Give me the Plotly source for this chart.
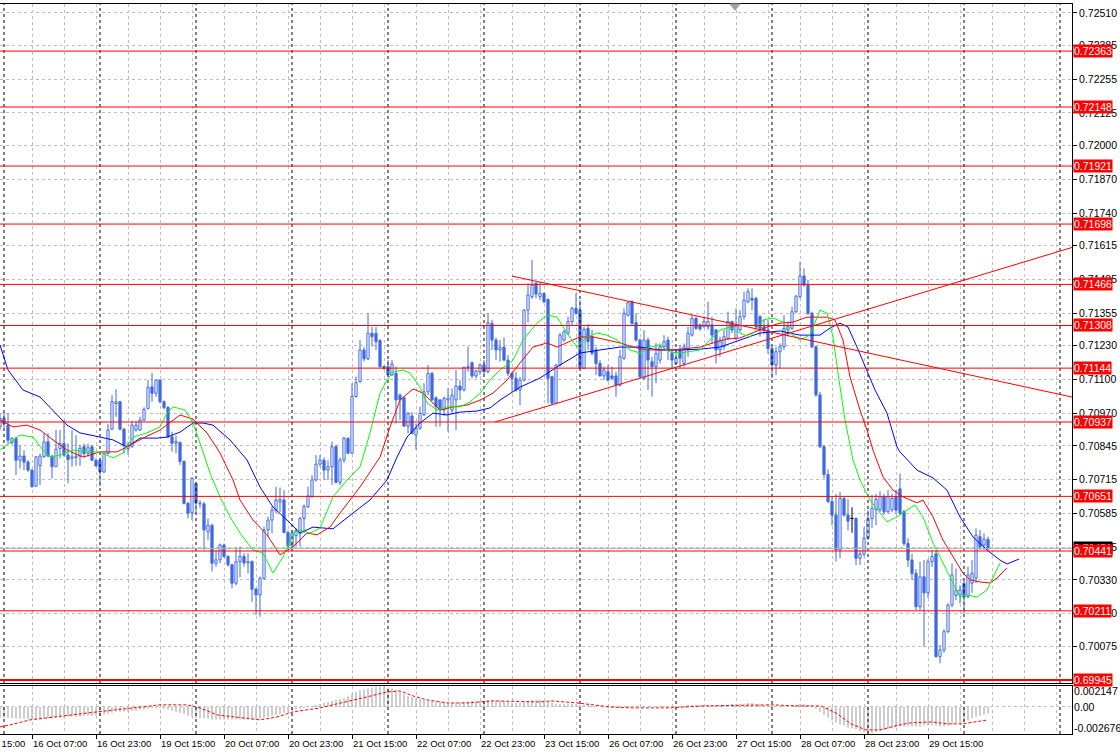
import plotly.graph_objects as go

# ---------------- data ----------------
bar_index = list(range(-1, 247))  # hourly bars, 0 = 16 Oct 00:00

open_px = [
0.70919, 0.70951, 0.70925, 0.70858, 0.70874, 0.70790, 0.70806, 0.70783, 0.70752, 0.70690,
0.70770, 0.70803, 0.70861, 0.70806, 0.70765, 0.70835, 0.70854, 0.70810, 0.70797, 0.70800,
0.70806, 0.70842, 0.70816, 0.70842, 0.70790, 0.70790, 0.70745, 0.70816, 0.70909, 0.71008,
0.71015, 0.70909, 0.70835, 0.70842, 0.70906, 0.70906, 0.70944, 0.70989, 0.71072, 0.71047,
0.71098, 0.71015, 0.70993, 0.70880, 0.70855, 0.70858, 0.70785, 0.70624, 0.70588, 0.70700,
0.70622, 0.70622, 0.70515, 0.70540, 0.70394, 0.70407, 0.70464, 0.70420, 0.70388, 0.70317,
0.70400, 0.70420, 0.70395, 0.70400, 0.70294, 0.70272, 0.70336, 0.70522, 0.70560, 0.70598,
0.70630, 0.70637, 0.70512, 0.70460, 0.70500, 0.70509, 0.70566, 0.70612, 0.70650, 0.70714,
0.70775, 0.70790, 0.70752, 0.70765, 0.70842, 0.70705, 0.70791, 0.70874, 0.70817, 0.71035,
0.71092, 0.71214, 0.71180, 0.71278, 0.71278, 0.71250, 0.71150, 0.71150, 0.71118, 0.71124,
0.71040, 0.71030, 0.70921, 0.70960, 0.70887, 0.70913, 0.70965, 0.71053, 0.71124, 0.71030,
0.71022, 0.70983, 0.71022, 0.70983, 0.71022, 0.71075, 0.71060, 0.71147, 0.71165, 0.71114,
0.71130, 0.71156, 0.71130, 0.71316, 0.71252, 0.71214, 0.71224, 0.71175, 0.71124, 0.71105,
0.71060, 0.71098, 0.71367, 0.71419, 0.71470, 0.71419, 0.71431, 0.71408, 0.71111, 0.71009,
0.71156, 0.71252, 0.71278, 0.71323, 0.71374, 0.71367, 0.71143, 0.71297, 0.71265, 0.71214,
0.71162, 0.71114, 0.71130, 0.71114, 0.71114, 0.71079, 0.71182, 0.71348, 0.71399, 0.71319,
0.71252, 0.71105, 0.71252, 0.71169, 0.71150, 0.71175, 0.71226, 0.71252, 0.71201, 0.71162,
0.71214, 0.71162, 0.71214, 0.71271, 0.71335, 0.71310, 0.71303, 0.71303, 0.71310, 0.71291,
0.71214, 0.71226, 0.71258, 0.71323, 0.71258, 0.71291, 0.71342, 0.71399, 0.71412, 0.71412,
0.71342, 0.71303, 0.71291, 0.71220, 0.71156, 0.71207, 0.71226, 0.71291, 0.71297, 0.71361,
0.71419, 0.71498, 0.71463, 0.71355, 0.71226, 0.71041, 0.70842, 0.70735, 0.70631, 0.70579,
0.70445, 0.70643, 0.70579, 0.70566, 0.70566, 0.70413, 0.70429, 0.70490, 0.70566, 0.70600,
0.70600, 0.70650, 0.70592, 0.70600, 0.70650, 0.70680, 0.70592, 0.70470, 0.70406, 0.70355,
0.70227, 0.70342, 0.70280, 0.70400, 0.70430, 0.70035, 0.70060, 0.70131, 0.70233, 0.70270,
0.70272, 0.70317, 0.70265, 0.70317, 0.70336, 0.70496, 0.70464, 0.70486,
]

high_px = [
0.70970, 0.70975, 0.70970, 0.70880, 0.70880, 0.70848, 0.70829, 0.70790, 0.70755, 0.70806,
0.70816, 0.70893, 0.70893, 0.70810, 0.70906, 0.70906, 0.70944, 0.70854, 0.70906, 0.70886,
0.70848, 0.70854, 0.70854, 0.70848, 0.70797, 0.70793, 0.70822, 0.70929, 0.71040, 0.71063,
0.71018, 0.70915, 0.70860, 0.70940, 0.70940, 0.70957, 0.70993, 0.71098, 0.71126, 0.71100,
0.71100, 0.71020, 0.70998, 0.70900, 0.70885, 0.70862, 0.70790, 0.70630, 0.70725, 0.70705,
0.70637, 0.70630, 0.70566, 0.70545, 0.70445, 0.70470, 0.70470, 0.70425, 0.70392, 0.70455,
0.70458, 0.70432, 0.70432, 0.70405, 0.70300, 0.70343, 0.70535, 0.70573, 0.70612, 0.70688,
0.70685, 0.70675, 0.70520, 0.70520, 0.70530, 0.70573, 0.70620, 0.70688, 0.70733, 0.70810,
0.70810, 0.70800, 0.70790, 0.70862, 0.70850, 0.70800, 0.70880, 0.70878, 0.71086, 0.71112,
0.71252, 0.71225, 0.71355, 0.71303, 0.71303, 0.71255, 0.71155, 0.71175, 0.71175, 0.71150,
0.71047, 0.71035, 0.70975, 0.70975, 0.70932, 0.70996, 0.71086, 0.71156, 0.71130, 0.71035,
0.71025, 0.71035, 0.71066, 0.71066, 0.71137, 0.71098, 0.71150, 0.71227, 0.71170, 0.71137,
0.71162, 0.71175, 0.71355, 0.71330, 0.71262, 0.71252, 0.71262, 0.71194, 0.71130, 0.71130,
0.71111, 0.71370, 0.71470, 0.71560, 0.71476, 0.71476, 0.71435, 0.71412, 0.71115, 0.71160,
0.71280, 0.71290, 0.71342, 0.71380, 0.71431, 0.71406, 0.71303, 0.71314, 0.71291, 0.71226,
0.71175, 0.71150, 0.71156, 0.71150, 0.71130, 0.71214, 0.71374, 0.71399, 0.71406, 0.71355,
0.71258, 0.71290, 0.71262, 0.71188, 0.71240, 0.71239, 0.71271, 0.71265, 0.71214, 0.71214,
0.71233, 0.71239, 0.71303, 0.71348, 0.71342, 0.71316, 0.71342, 0.71399, 0.71342, 0.71295,
0.71265, 0.71291, 0.71361, 0.71326, 0.71374, 0.71367, 0.71438, 0.71451, 0.71451, 0.71419,
0.71348, 0.71330, 0.71329, 0.71226, 0.71226, 0.71239, 0.71348, 0.71323, 0.71380, 0.71425,
0.71553, 0.71527, 0.71483, 0.71361, 0.71230, 0.71053, 0.70848, 0.70755, 0.70650, 0.70660,
0.70669, 0.70650, 0.70640, 0.70609, 0.70570, 0.70445, 0.70532, 0.70598, 0.70656, 0.70660,
0.70670, 0.70660, 0.70675, 0.70660, 0.70676, 0.70739, 0.70600, 0.70490, 0.70430, 0.70371,
0.70400, 0.70406, 0.70410, 0.70445, 0.70445, 0.70080, 0.70140, 0.70240, 0.70393, 0.70374,
0.70310, 0.70330, 0.70381, 0.70406, 0.70528, 0.70522, 0.70509, 0.70496,
]

low_px = [
0.70906, 0.70915, 0.70854, 0.70850, 0.70733, 0.70758, 0.70752, 0.70745, 0.70685, 0.70688,
0.70695, 0.70800, 0.70803, 0.70720, 0.70765, 0.70797, 0.70803, 0.70701, 0.70765, 0.70768,
0.70768, 0.70800, 0.70803, 0.70787, 0.70765, 0.70690, 0.70741, 0.70812, 0.70906, 0.70957,
0.70906, 0.70816, 0.70812, 0.70838, 0.70900, 0.70903, 0.70940, 0.70985, 0.71015, 0.71034,
0.71008, 0.70985, 0.70875, 0.70823, 0.70817, 0.70772, 0.70620, 0.70566, 0.70560, 0.70580,
0.70605, 0.70445, 0.70483, 0.70362, 0.70381, 0.70394, 0.70413, 0.70381, 0.70298, 0.70310,
0.70340, 0.70381, 0.70355, 0.70246, 0.70195, 0.70188, 0.70330, 0.70496, 0.70509, 0.70586,
0.70590, 0.70509, 0.70445, 0.70440, 0.70458, 0.70458, 0.70510, 0.70605, 0.70645, 0.70708,
0.70765, 0.70714, 0.70714, 0.70695, 0.70700, 0.70694, 0.70780, 0.70815, 0.70815, 0.71030,
0.71088, 0.71170, 0.71175, 0.71227, 0.71214, 0.71145, 0.71137, 0.71112, 0.71114, 0.70932,
0.70945, 0.70919, 0.70893, 0.70890, 0.70830, 0.70906, 0.70960, 0.71040, 0.71018, 0.70919,
0.70919, 0.70960, 0.70900, 0.70970, 0.70906, 0.71022, 0.71054, 0.71130, 0.71105, 0.71105,
0.71118, 0.71120, 0.71124, 0.71214, 0.71175, 0.71169, 0.71170, 0.71114, 0.71053, 0.71053,
0.71002, 0.71092, 0.71320, 0.71410, 0.71412, 0.71406, 0.71393, 0.71009, 0.71002, 0.71005,
0.71150, 0.71246, 0.71271, 0.71310, 0.71348, 0.71140, 0.71140, 0.71214, 0.71194, 0.71118,
0.71111, 0.71098, 0.71092, 0.71098, 0.71034, 0.71073, 0.71175, 0.71342, 0.71310, 0.71246,
0.71105, 0.71098, 0.71060, 0.71034, 0.71086, 0.71162, 0.71214, 0.71175, 0.71143, 0.71156,
0.71143, 0.71150, 0.71188, 0.71265, 0.71291, 0.71288, 0.71300, 0.71291, 0.71239, 0.71162,
0.71188, 0.71214, 0.71252, 0.71278, 0.71252, 0.71284, 0.71330, 0.71393, 0.71367, 0.71297,
0.71265, 0.71275, 0.71200, 0.71105, 0.71118, 0.71143, 0.71214, 0.71265, 0.71291, 0.71355,
0.71412, 0.71457, 0.71348, 0.71220, 0.71034, 0.70836, 0.70720, 0.70625, 0.70540, 0.70400,
0.70413, 0.70573, 0.70520, 0.70511, 0.70387, 0.70387, 0.70420, 0.70483, 0.70530, 0.70540,
0.70590, 0.70580, 0.70585, 0.70590, 0.70585, 0.70580, 0.70460, 0.70380, 0.70330, 0.70214,
0.70214, 0.70073, 0.70260, 0.70380, 0.70030, 0.70009, 0.70050, 0.70125, 0.70225, 0.70252,
0.70240, 0.70201, 0.70260, 0.70280, 0.70317, 0.70445, 0.70445, 0.70445,
]

close_px = [
0.70951, 0.70931, 0.70867, 0.70874, 0.70790, 0.70806, 0.70783, 0.70752, 0.70688, 0.70803,
0.70806, 0.70861, 0.70806, 0.70765, 0.70832, 0.70854, 0.70810, 0.70793, 0.70803, 0.70806,
0.70836, 0.70816, 0.70838, 0.70790, 0.70768, 0.70745, 0.70816, 0.70906, 0.71015, 0.71015,
0.70909, 0.70848, 0.70848, 0.70925, 0.70925, 0.70944, 0.70985, 0.71070, 0.71047, 0.71098,
0.71015, 0.70993, 0.70880, 0.70855, 0.70862, 0.70785, 0.70624, 0.70586, 0.70720, 0.70625,
0.70625, 0.70522, 0.70540, 0.70394, 0.70407, 0.70464, 0.70420, 0.70388, 0.70317, 0.70400,
0.70420, 0.70395, 0.70400, 0.70294, 0.70272, 0.70336, 0.70522, 0.70560, 0.70598, 0.70637,
0.70640, 0.70512, 0.70460, 0.70509, 0.70520, 0.70566, 0.70612, 0.70653, 0.70714, 0.70775,
0.70790, 0.70752, 0.70765, 0.70842, 0.70705, 0.70791, 0.70874, 0.70817, 0.71035, 0.71088,
0.71214, 0.71180, 0.71278, 0.71265, 0.71246, 0.71150, 0.71143, 0.71118, 0.71160, 0.71022,
0.71022, 0.70921, 0.70970, 0.70893, 0.70913, 0.70970, 0.71053, 0.71124, 0.71022, 0.70996,
0.70983, 0.71028, 0.71028, 0.71040, 0.71075, 0.71060, 0.71147, 0.71150, 0.71114, 0.71134,
0.71156, 0.71130, 0.71319, 0.71252, 0.71214, 0.71224, 0.71175, 0.71124, 0.71105, 0.71060,
0.71098, 0.71367, 0.71425, 0.71463, 0.71429, 0.71431, 0.71399, 0.71105, 0.71009, 0.71156,
0.71271, 0.71284, 0.71323, 0.71374, 0.71355, 0.71143, 0.71293, 0.71246, 0.71201, 0.71162,
0.71114, 0.71137, 0.71098, 0.71105, 0.71079, 0.71188, 0.71355, 0.71396, 0.71316, 0.71252,
0.71111, 0.71252, 0.71175, 0.71150, 0.71200, 0.71226, 0.71246, 0.71214, 0.71175, 0.71182,
0.71182, 0.71226, 0.71278, 0.71335, 0.71297, 0.71295, 0.71323, 0.71323, 0.71271, 0.71214,
0.71252, 0.71265, 0.71323, 0.71291, 0.71306, 0.71342, 0.71406, 0.71438, 0.71406, 0.71303,
0.71297, 0.71290, 0.71220, 0.71156, 0.71207, 0.71226, 0.71297, 0.71303, 0.71361, 0.71421,
0.71498, 0.71463, 0.71355, 0.71226, 0.71041, 0.70842, 0.70735, 0.70631, 0.70579, 0.70445,
0.70643, 0.70579, 0.70556, 0.70566, 0.70413, 0.70429, 0.70490, 0.70566, 0.70605, 0.70640,
0.70650, 0.70592, 0.70650, 0.70643, 0.70598, 0.70586, 0.70470, 0.70406, 0.70355, 0.70227,
0.70342, 0.70280, 0.70400, 0.70420, 0.70035, 0.70060, 0.70131, 0.70233, 0.70349, 0.70291,
0.70291, 0.70265, 0.70349, 0.70355, 0.70502, 0.70457, 0.70486, 0.70451,
]

# Alligator lines (already shifted forward)
jaw_bar = [-1, 1, 4.75, 9, 15.75, 19, 24, 27.25, 30.75, 34, 38.25, 40.75, 44, 47.25, 49.75, 52.25,
           56.5, 60.75, 64, 67.25, 70.75, 74, 77.25, 80.75, 82.25, 87.25, 91.5, 95.75, 98.25, 100.75,
           104, 107.25, 110.75, 114, 118.25, 121.5, 124, 129, 134, 139, 144, 149, 154, 159, 164, 169,
           174, 179, 184, 189, 194, 199, 204, 206.5, 209, 211, 213.25, 215.75, 217.75, 220.75, 223.25,
           224, 228.25, 232.25, 235.75, 239, 242.25, 245.75, 249, 250.75, 253.75]
jaw_val = [0.71233, 0.71137, 0.71060, 0.71033, 0.70925, 0.70895, 0.70879, 0.70868, 0.70841, 0.70875,
           0.70875, 0.70879, 0.70898, 0.70933, 0.70933, 0.70925, 0.70868, 0.70791, 0.70687, 0.70610,
           0.70560, 0.70510, 0.70533, 0.70529, 0.70526, 0.70587, 0.70637, 0.70714, 0.70802, 0.70879,
           0.70933, 0.70971, 0.70964, 0.70975, 0.70979, 0.70991, 0.71021, 0.71071, 0.71106, 0.71156,
           0.71202, 0.71214, 0.71225, 0.71225, 0.71214, 0.71214, 0.71217, 0.71225, 0.71252, 0.71279,
           0.71287, 0.71271, 0.71271, 0.71298, 0.71317, 0.71302, 0.71225, 0.71137, 0.71060, 0.70971,
           0.70841, 0.70822, 0.70752, 0.70722, 0.70675, 0.70572, 0.70495, 0.70445, 0.70406, 0.70391,
           0.70410]

teeth_bar = [-1, 2.25, 5.75, 9, 12.25, 15.75, 19.75, 24, 28.25, 30.75, 34.75, 39, 44, 47.25, 50.75,
             54, 57.25, 59, 62.25, 65.75, 69, 72.25, 75.75, 78.25, 81.5, 84, 89, 94, 96.5, 99, 102.25,
             104.75, 106.5, 109, 112.25, 115.75, 119, 122.25, 125.75, 129, 132.25, 135.75, 138.25,
             140.75, 144, 147.25, 150.75, 154, 157.25, 160.75, 167.25, 174, 177.25, 180.75, 184,
             187.25, 190.75, 194, 197.25, 200.75, 205.75, 207.75, 209.75, 211.5, 214, 215.75, 217.25,
             219.75, 222.25, 224.75, 228.25, 229.75, 232.25, 234.75, 237.25, 239.75, 241.5, 244,
             246.5, 248.25, 250.75]
teeth_val = [0.70945, 0.70918, 0.70925, 0.70906, 0.70868, 0.70829, 0.70802, 0.70822, 0.70822, 0.70841,
             0.70875, 0.70906, 0.70964, 0.70948, 0.70895, 0.70818, 0.70714, 0.70637, 0.70560, 0.70503,
             0.70426, 0.70457, 0.70510, 0.70503, 0.70533, 0.70587, 0.70687, 0.70802, 0.70918, 0.71021,
             0.71064, 0.71048, 0.71021, 0.70983, 0.70995, 0.71002, 0.71021, 0.71048, 0.71098, 0.71164,
             0.71225, 0.71241, 0.71225, 0.71241, 0.71264, 0.71264, 0.71252, 0.71241, 0.71225, 0.71214,
             0.71214, 0.71225, 0.71241, 0.71256, 0.71260, 0.71279, 0.71302, 0.71317, 0.71321, 0.71340,
             0.71340, 0.71329, 0.71252, 0.71110, 0.70983, 0.70906, 0.70829, 0.70726, 0.70675, 0.70649,
             0.70626, 0.70637, 0.70572, 0.70483, 0.70418, 0.70356, 0.70330, 0.70322, 0.70318, 0.70337,
             0.70376]

lips_bar = [-1, 2.25, 4, 7.25, 9.75, 11.5, 14, 17.25, 20.75, 24, 27.25, 29.75, 32.25, 35.75, 39,
            40.75, 42.25, 45.25, 47.25, 49, 51.5, 54, 56.5, 59, 62.25, 64.75, 67.25, 69.75, 72.25, 74,
            76.5, 79, 82.25, 85.75, 89, 91.5, 94, 95.75, 97.25, 99.75, 101.5, 104, 105.75, 108.25,
            110.75, 114, 116.5, 119, 121.5, 124, 127.25, 129.75, 133.25, 135.75, 138.25, 140.75,
            143.25, 145.75, 148.25, 150.75, 153.25, 156.5, 159, 161.5, 164, 166.5, 169, 174, 176.5,
            179, 181.5, 184, 186.5, 189.75, 192.25, 194.75, 196.5, 199, 201.5, 204, 205.75, 207.25,
            208.75, 210.25, 212.25, 214, 216.5, 219, 220.75, 223.25, 225.75, 227.75, 229.75, 232.25,
            234.75, 237.25, 239, 240.75, 243.25, 245.75, 249]
lips_val = [0.70829, 0.70868, 0.70887, 0.70879, 0.70829, 0.70802, 0.70810, 0.70829, 0.70822, 0.70822,
            0.70799, 0.70818, 0.70879, 0.70895, 0.70918, 0.70971, 0.70995, 0.70983, 0.70933, 0.70856,
            0.70741, 0.70649, 0.70572, 0.70510, 0.70445, 0.70433, 0.70356, 0.70418, 0.70510, 0.70522,
            0.70510, 0.70529, 0.70649, 0.70714, 0.70764, 0.70895, 0.71048, 0.71098, 0.71129, 0.71137,
            0.71125, 0.71071, 0.71010, 0.70983, 0.70995, 0.70995, 0.71014, 0.71048, 0.71098, 0.71137,
            0.71175, 0.71252, 0.71317, 0.71348, 0.71340, 0.71279, 0.71225, 0.71264, 0.71279, 0.71271,
            0.71252, 0.71214, 0.71202, 0.71225, 0.71233, 0.71206, 0.71202, 0.71214, 0.71252, 0.71290,
            0.71302, 0.71279, 0.71264, 0.71329, 0.71337, 0.71321, 0.71279, 0.71252, 0.71271, 0.71367,
            0.71356, 0.71264, 0.71098, 0.70945, 0.70791, 0.70714, 0.70637, 0.70587, 0.70553, 0.70572,
            0.70599, 0.70618, 0.70572, 0.70472, 0.70395, 0.70318, 0.70264, 0.70272, 0.70264, 0.70291,
            0.70395]

# MACD sub-window
macd_hist = [
-0.0011, -0.0011, -0.0011, -0.0012, -0.0012, -0.0012, -0.0012, -0.0013, -0.0013, -0.0013,
-0.0013, -0.0012, -0.0012, -0.0012, -0.0011, -0.0011, -0.0011, -0.0010, -0.0010, -0.0010,
-0.0010, -0.0009, -0.0009, -0.0009, -0.0009, -0.0009, -0.0008, -0.0007, -0.0006, -0.0005,
-0.0005, -0.0005, -0.0005, -0.0004, -0.0004, -0.0003, -0.0003, -0.0002, -0.0001, -0.0001,
-0.0001, -0.0002, -0.0003, -0.0004, -0.0005, -0.0006, -0.0007, -0.0009, -0.0010, -0.0011,
-0.0011, -0.0012, -0.0012, -0.0013, -0.0013, -0.0013, -0.0013, -0.0013, -0.0013, -0.0013,
-0.0013, -0.0013, -0.0013, -0.0013, -0.0013, -0.0012, -0.0011, -0.0010, -0.0009, -0.0008,
-0.0007, -0.0006, -0.0005, -0.0004, -0.0003, -0.0002, -0.0001, 0.0000, 0.0001, 0.0002,
0.0003, 0.0004, 0.0005, 0.0006, 0.0007, 0.0008, 0.0009, 0.0011, 0.0013, 0.0015,
0.0017, 0.0018, 0.0019, 0.0020, 0.0021, 0.0021, 0.0021, 0.0020, 0.0019, 0.0017,
0.0015, 0.0013, 0.0011, 0.0010, 0.0009, 0.0008, 0.0007, 0.0006, 0.0006, 0.0005,
0.0005, 0.0005, 0.0004, 0.0004, 0.0004, 0.0004, 0.0005, 0.0005, 0.0006, 0.0006,
0.0006, 0.0006, 0.0007, 0.0007, 0.0007, 0.0006, 0.0006, 0.0005, 0.0004, 0.0004,
0.0004, 0.0005, 0.0006, 0.0007, 0.0007, 0.0007, 0.0006, 0.0005, 0.0004, 0.0003,
0.0003, 0.0003, 0.0003, 0.0003, 0.0003, 0.0002, 0.0002, 0.0002, 0.0001, 0.0001,
0.0000, 0.0000, -0.0001, -0.0001, -0.0001, -0.0001, 0.0000, 0.0001, 0.0001, 0.0001,
0.0000, 0.0000, 0.0000, 0.0000, 0.0000, 0.0001, 0.0001, 0.0001, 0.0001, 0.0001,
0.0001, 0.0001, 0.0002, 0.0002, 0.0002, 0.0002, 0.0002, 0.0002, 0.0002, 0.0002,
0.0002, 0.0002, 0.0002, 0.0003, 0.0003, 0.0003, 0.0003, 0.0004, 0.0004, 0.0003,
0.0003, 0.0002, 0.0002, 0.0001, 0.0001, 0.0001, 0.0001, 0.0001, 0.0002, 0.0002,
0.0003, 0.0003, 0.0002, 0.0001, -0.0002, -0.0005, -0.0008, -0.0011, -0.0014, -0.0016,
-0.0018, -0.0019, -0.0021, -0.0022, -0.0023, -0.0025, -0.0026, -0.0027, -0.0027, -0.0026,
-0.0025, -0.0024, -0.0023, -0.0022, -0.0021, -0.0020, -0.0020, -0.0020, -0.0020, -0.0020,
-0.0020, -0.0019, -0.0019, -0.0019, -0.0019, -0.0020, -0.0020, -0.0019, -0.0018, -0.0017,
-0.0016, -0.0015, -0.0014, -0.0012, -0.0010, -0.0009, -0.0008, -0.0007,
]
signal_bar = [-1, 1.5, 6.5, 15.75, 23.25, 32.25, 39, 45.75, 49, 53.25, 59, 64, 68.25, 72.25, 79,
              85.75, 90.75, 95.75, 99, 102.25, 105.75, 110.75, 115.75, 122.25, 134, 136.75, 143.25,
              151.5, 157, 166.25, 174.75, 182, 192.25, 198.75, 204.25, 208, 211.75, 215.5, 219,
              222.75, 226.5, 232, 235.75, 239.5, 243.25, 246]
signal_val = [-0.00205, -0.00185, -0.00133, -0.00092, -0.00051, -0.0001, 0.00021, 0.00021, -0.0001,
              -0.00082, -0.00113, -0.00133, -0.00103, -0.00051, -0.0001, 0.00051, 0.00103, 0.00154,
              0.00164, 0.00113, 0.00072, 0.00041, 0.00041, 0.00062, 0.00051, 0.00062, 0.00041, 0.0,
              -0.0001, -0.0001, 0.0001, 0.00015, 0.00021, 0.0001, 0.0001, -0.00062, -0.00174,
              -0.00236, -0.00236, -0.00195, -0.00164, -0.00154, -0.00174, -0.00174, -0.00154,
              -0.00133]

# drawn objects
level_prices = [0.72363, 0.72148, 0.71921, 0.71698, 0.71466, 0.71308, 0.71144,
                0.70937, 0.70651, 0.70441, 0.70211, 0.69945]
trend_down_bar = [127, 267]
trend_down_val = [0.71498, 0.71033]
trend_up_bar = [122.75, 267]
trend_up_val = [0.70937, 0.71608]

price_ticks = [0.72510, 0.72385, 0.72255, 0.72125, 0.72000, 0.71870, 0.71740, 0.71615, 0.71485,
               0.71355, 0.71230, 0.71100, 0.70970, 0.70845, 0.70715, 0.70585, 0.70455, 0.70330,
               0.70200, 0.70075]
time_label_bar = [7, 23, 39, 55, 71, 87, 103, 119, 135, 151, 167, 183, 199, 215, 231]
time_label_text = ["16 Oct 07:00", "16 Oct 23:00", "19 Oct 15:00", "20 Oct 07:00", "20 Oct 23:00",
                   "21 Oct 15:00", "22 Oct 07:00", "22 Oct 23:00", "23 Oct 15:00", "26 Oct 07:00",
                   "26 Oct 23:00", "27 Oct 15:00", "28 Oct 07:00", "28 Oct 23:00", "29 Oct 15:00"]
first_label_text = "15 Oct 15:00"
day_start_bar = [0, 24, 48, 72, 96, 120, 144, 168, 192, 216, 240, 264]
grid_bar = list(range(7, 267, 8))
macd_labels = ["0.002147", "0.00", "-0.002676"]

# ---------------- styling ----------------
CANDLE = "#4169E1"
GRID = "#C0C0C0"
FONT = "Liberation Sans"
LOWER_TOP = 0.06575
Y_RANGE = [0.699336, 0.72544]
Y2_RANGE = [-0.002779, 0.002147]

fig = go.Figure()

# day separators (period separators) in both panes
sx, sy, sx2, sy2 = [], [], [], []
for b in day_start_bar:
    sx += [b, b, None]
    sy += [Y_RANGE[0], Y_RANGE[1], None]
    sx2 += [b, b, None]
    sy2 += [Y2_RANGE[0], Y2_RANGE[1], None]
fig.add_trace(go.Scatter(x=sx, y=sy, mode="lines", line=dict(color="black", width=1, dash="3px,3px"),
                         hoverinfo="skip", xaxis="x", yaxis="y"))
fig.add_trace(go.Scatter(x=sx2, y=sy2, mode="lines", line=dict(color="black", width=1, dash="3px,3px"),
                         hoverinfo="skip", xaxis="x2", yaxis="y2"))

# candles drawn as explicit bodies + wicks (bull hollow, bear filled)
bull = [k for k in range(len(bar_index)) if close_px[k] > open_px[k]]
bear = [k for k in range(len(bar_index)) if close_px[k] < open_px[k]]
doji = [k for k in range(len(bar_index)) if close_px[k] == open_px[k]]

wx, wy = [], []
for k in bull + bear:
    top, bot = max(open_px[k], close_px[k]), min(open_px[k], close_px[k])
    wx += [bar_index[k], bar_index[k], None, bar_index[k], bar_index[k], None]
    wy += [high_px[k], top, None, bot, low_px[k], None]
fig.add_trace(go.Scatter(x=wx, y=wy, mode="lines", line=dict(color=CANDLE, width=1),
                         hoverinfo="skip", xaxis="x", yaxis="y"))
fig.add_trace(go.Bar(x=[bar_index[k] for k in bear],
                     y=[open_px[k] - close_px[k] for k in bear],
                     base=[close_px[k] for k in bear], width=0.55,
                     marker=dict(color=CANDLE, line=dict(color=CANDLE, width=1)),
                     hoverinfo="skip", xaxis="x", yaxis="y"))
fig.add_trace(go.Bar(x=[bar_index[k] for k in bull],
                     y=[close_px[k] - open_px[k] for k in bull],
                     base=[open_px[k] for k in bull], width=0.55,
                     marker=dict(color="white", line=dict(color=CANDLE, width=1)),
                     hoverinfo="skip", xaxis="x", yaxis="y"))
dx, dy = [], []
for k in doji:
    dx += [bar_index[k], bar_index[k], None, bar_index[k] - 0.4, bar_index[k] + 0.4, None]
    dy += [high_px[k], low_px[k], None, open_px[k], close_px[k], None]
fig.add_trace(go.Scatter(x=dx, y=dy, mode="lines", line=dict(color="black", width=1),
                         hoverinfo="skip", xaxis="x", yaxis="y"))

for bars, vals, col in [(jaw_bar, jaw_val, "#0000FF"), (teeth_bar, teeth_val, "#FF0000"),
                        (lips_bar, lips_val, "#00FF00")]:
    fig.add_trace(go.Scatter(x=bars, y=vals, mode="lines", line=dict(color=col, width=1),
                             hoverinfo="skip", xaxis="x", yaxis="y"))

for bars, vals in [(trend_down_bar, trend_down_val), (trend_up_bar, trend_up_val)]:
    fig.add_trace(go.Scatter(x=bars, y=vals, mode="lines", line=dict(color="#FF0000", width=1),
                             hoverinfo="skip", xaxis="x", yaxis="y"))

bid = close_px[-1]
fig.add_trace(go.Scatter(x=[-1, 267], y=[bid, bid], mode="lines",
                         line=dict(color="#B0B0B0", width=1), hoverinfo="skip",
                         xaxis="x", yaxis="y"))
for lv in level_prices:
    fig.add_trace(go.Scatter(x=[-1, 267], y=[lv, lv], mode="lines",
                             line=dict(color="#FF0000", width=2 if lv == level_prices[-1] else 1),
                             hoverinfo="skip", xaxis="x", yaxis="y"))

fig.add_trace(go.Bar(x=bar_index, y=macd_hist, width=0.35,
                     marker=dict(color="#B8B8B8", line=dict(width=0)),
                     hoverinfo="skip", xaxis="x2", yaxis="y2"))
fig.add_trace(go.Scatter(x=signal_bar, y=signal_val, mode="lines",
                         line=dict(color="#FF0000", width=1, dash="3px,2px"),
                         hoverinfo="skip", xaxis="x2", yaxis="y2"))

# chart shift marker (small grey triangle hanging from the top border)
shapes = [dict(type="path", xref="x", yref="paper",
               path="M 181.5 1 L 184 1 L 182.75 0.9915 Z",
               fillcolor="#A0A0A0", line=dict(color="#A0A0A0", width=1))]

ann = []
ann.append(dict(xref="paper", yref="y", x=1, y=bid, xanchor="left", yanchor="middle",
                text=f"{bid:.5f}", showarrow=False, bgcolor="black",
                font=dict(family=FONT, size=10.5, color="white"), borderpad=0, xshift=1))
for lv in level_prices:
    ann.append(dict(xref="paper", yref="y", x=1, y=lv, xanchor="left", yanchor="middle",
                    text=f"{lv:.5f}", showarrow=False, bgcolor="#FF0000",
                    font=dict(family=FONT, size=10.5, color="white"), borderpad=0, xshift=1))
for pos, txt in zip([0.896, 0.5625, 0.125], macd_labels):
    ann.append(dict(xref="paper", yref="paper", x=1, y=pos * LOWER_TOP, xanchor="left",
                    yanchor="middle", text=txt, showarrow=False,
                    font=dict(family=FONT, size=10.5, color="black"), xshift=0))
for b, txt in zip(time_label_bar, time_label_text):
    ann.append(dict(xref="x2", yref="paper", x=b, y=0, xanchor="left", yanchor="top",
                    text=txt, showarrow=False, font=dict(family=FONT, size=9.5, color="black"),
                    yshift=-2, xshift=-1))
ann.append(dict(xref="paper", yref="paper", x=0, y=0, xanchor="right", yanchor="top",
                text=first_label_text, showarrow=False,
                font=dict(family=FONT, size=9.5, color="black"), yshift=-2, xshift=27))

fig.update_layout(
    width=1120, height=756,
    margin=dict(l=0, r=48, t=4, b=22),
    paper_bgcolor="white", plot_bgcolor="white",
    showlegend=False, barmode="overlay", hovermode=False,
    font=dict(family=FONT, size=10, color="black"),
    xaxis=dict(domain=[0, 1], anchor="y", range=[-1, 267],
               tickvals=grid_bar, showticklabels=False, ticks="", showspikes=False,
               showgrid=True, gridcolor=GRID, griddash="3px,3px", gridwidth=1, zeroline=False,
               showline=True, linecolor="black", mirror=True),
    yaxis=dict(domain=[0.0699, 1], anchor="x", side="right", range=Y_RANGE,
               tickvals=price_ticks, ticktext=[f"{t:.5f}" for t in price_ticks],
               ticks="outside", ticklen=4, tickcolor="black", showspikes=False,
               tickfont=dict(family=FONT, size=10.5, color="black"),
               showgrid=True, gridcolor=GRID, griddash="3px,3px", zeroline=False,
               showline=True, linecolor="black"),
    xaxis2=dict(domain=[0, 1], anchor="y2", matches="x", range=[-1, 267],
                tickvals=time_label_bar, showticklabels=False, ticks="outside", ticklen=4,
                tickcolor="black", showspikes=False,
                showgrid=True, gridcolor=GRID, griddash="3px,3px", zeroline=False,
                showline=True, linecolor="black", mirror=True,
                minor=dict(tickvals=grid_bar, showgrid=True, gridcolor=GRID, griddash="3px,3px")),
    yaxis2=dict(domain=[0, LOWER_TOP], anchor="x2", side="right", range=Y2_RANGE,
                tickvals=[0], showticklabels=False, ticks="",
                showgrid=True, gridcolor=GRID, griddash="3px,3px", zeroline=False,
                showline=True, linecolor="black"),
    shapes=shapes, annotations=ann,
)

fig.write_html("out.html", config={"displayModeBar": False, "staticPlot": True},
               post_script="document.body.style.margin='0px';document.body.style.overflow='hidden';")
